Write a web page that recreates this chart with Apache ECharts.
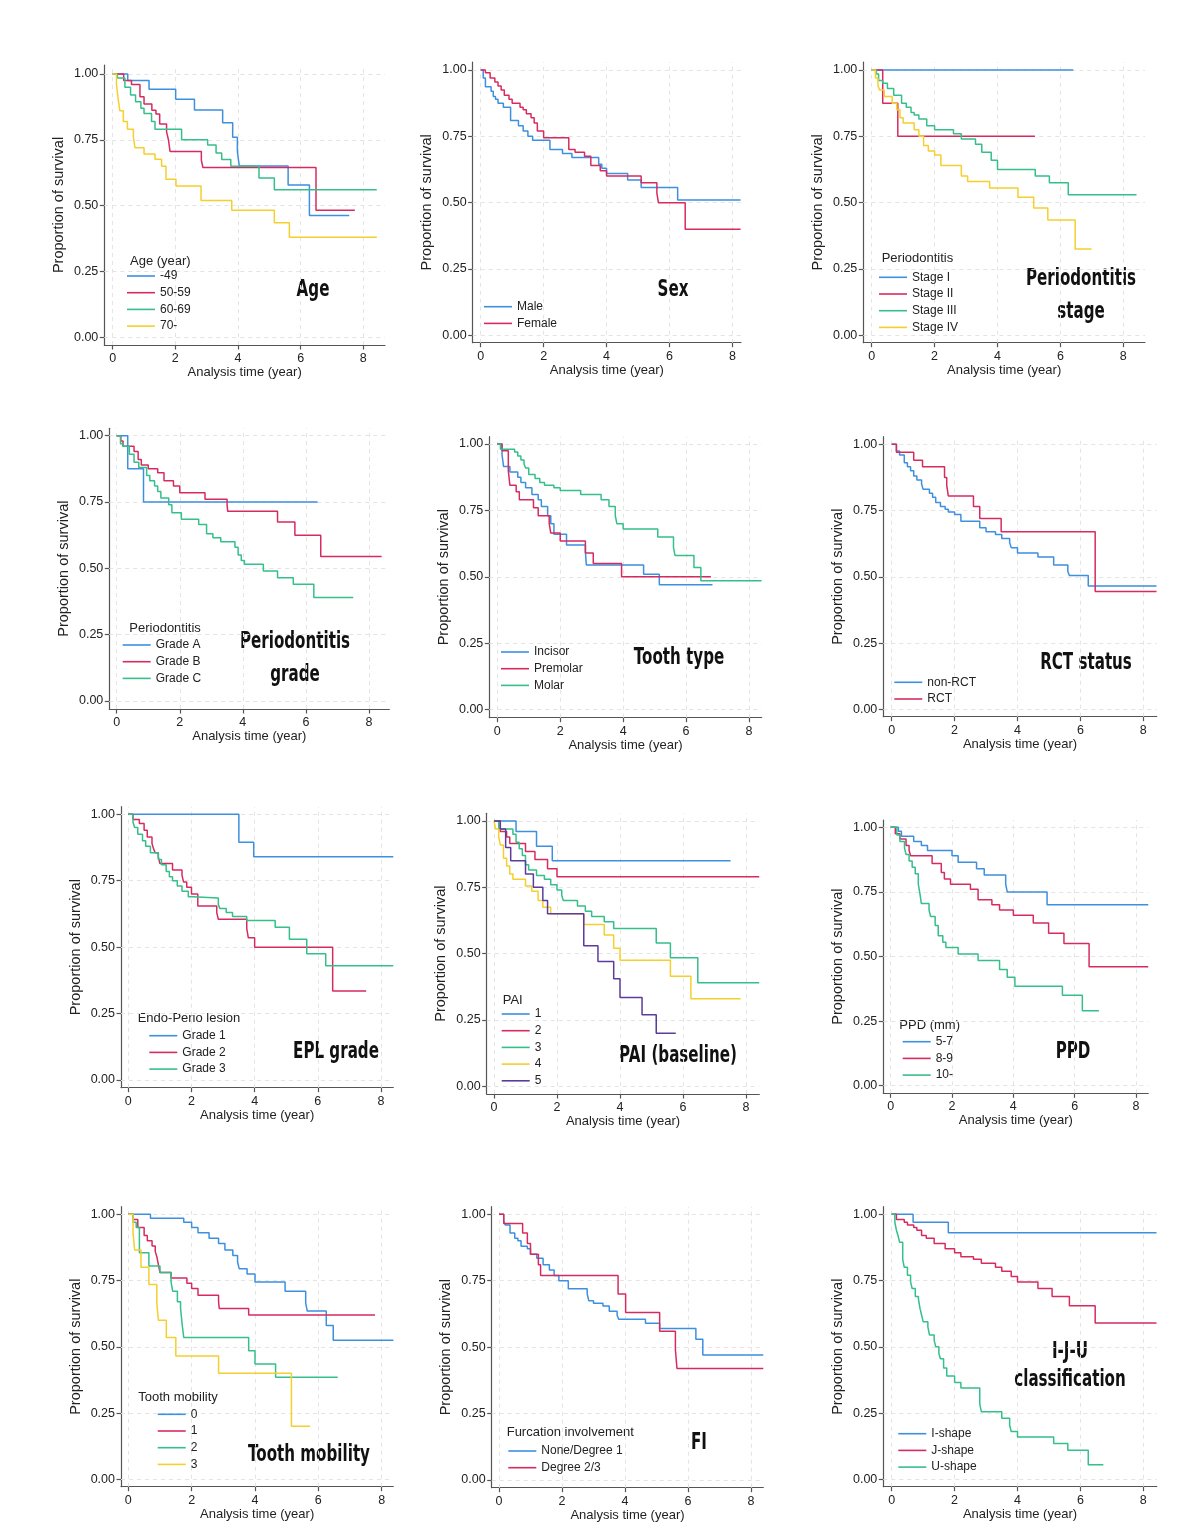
<!DOCTYPE html>
<html>
<head>
<meta charset="utf-8">
<script src="https://cdn.jsdelivr.net/npm/echarts@6/dist/echarts.min.js"></script>
<style>
  html, body { margin: 0; padding: 0; background: #fff; }
  #main { width: 1200px; height: 1537px; }
</style>
</head>
<body>
<div id="main"></div>
<script>
// tick values shared by every panel
const xTicks = [0, 2, 4, 6, 8]
const yTicks = [0, 0.25, 0.5, 0.75, 1]

// Kaplan-Meier curves: [time (year), survival]
// Age
const age49 = [[0, 1], [0.48, 0.975], [1.16, 0.942], [2.01, 0.904], [2.61, 0.863], [3.51, 0.815], [3.83, 0.76], [3.98, 0.705], [4.04, 0.651], [5.6, 0.578], [6.28, 0.463], [7.55, 0.463]]
const age50 = [[0, 1], [0.35, 0.975], [0.6, 0.96], [0.87, 0.914], [1.0, 0.886], [1.25, 0.862], [1.38, 0.848], [1.5, 0.81], [1.72, 0.78], [1.78, 0.75], [1.83, 0.706], [2.83, 0.673], [2.88, 0.645], [6.49, 0.483], [7.73, 0.483]]
const age60 = [[0, 1], [0.15, 0.985], [0.39, 0.95], [0.57, 0.92], [0.73, 0.895], [0.9, 0.87], [1.0, 0.85], [1.24, 0.82], [1.35, 0.79], [2.2, 0.75], [3.03, 0.73], [3.3, 0.70], [3.48, 0.675], [3.77, 0.65], [4.67, 0.605], [5.16, 0.56], [8.43, 0.56]]
const age70 = [[0, 1], [0.12, 0.96], [0.18, 0.9], [0.23, 0.86], [0.34, 0.82], [0.47, 0.79], [0.66, 0.76], [0.71, 0.72], [1.0, 0.696], [1.35, 0.676], [1.56, 0.65], [1.7, 0.60], [2.02, 0.575], [2.82, 0.52], [3.8, 0.483], [5.16, 0.435], [5.64, 0.38], [8.43, 0.38]]
// Sex
const male = [[0, 1], [0.08, 0.97], [0.15, 0.937], [0.33, 0.92], [0.4, 0.9], [0.47, 0.89], [0.55, 0.875], [0.72, 0.86], [0.95, 0.81], [1.2, 0.79], [1.35, 0.77], [1.5, 0.75], [1.65, 0.735], [2.2, 0.70], [2.6, 0.685], [2.9, 0.67], [3.75, 0.645], [3.85, 0.63], [4.0, 0.61], [4.67, 0.585], [5.1, 0.557], [6.26, 0.51], [8.26, 0.51]]
const female = [[0, 1], [0.15, 0.99], [0.3, 0.97], [0.45, 0.955], [0.55, 0.94], [0.65, 0.925], [0.75, 0.905], [0.9, 0.89], [1.0, 0.875], [1.25, 0.86], [1.35, 0.85], [1.45, 0.835], [1.6, 0.82], [1.7, 0.80], [1.8, 0.77], [2.0, 0.745], [2.8, 0.70], [3.0, 0.69], [3.3, 0.675], [3.5, 0.64], [3.8, 0.62], [4.0, 0.60], [5.1, 0.575], [5.6, 0.535], [5.65, 0.50], [6.5, 0.40], [8.26, 0.40]]
// Periodontitis stage
const stage1 = [[0, 1], [6.41, 1]]
const stage2 = [[0, 1], [0.35, 0.875], [0.83, 0.75], [5.19, 0.75]]
const stage3 = [[0, 1], [0.15, 0.985], [0.22, 0.96], [0.35, 0.95], [0.5, 0.93], [0.7, 0.905], [0.95, 0.875], [1.1, 0.86], [1.25, 0.84], [1.35, 0.83], [1.5, 0.815], [1.75, 0.79], [2.0, 0.775], [2.6, 0.76], [2.85, 0.74], [3.3, 0.72], [3.5, 0.69], [3.8, 0.66], [4.0, 0.625], [5.2, 0.60], [5.65, 0.575], [6.25, 0.53], [8.42, 0.53]]
const stage4 = [[0, 1], [0.12, 0.97], [0.2, 0.94], [0.25, 0.925], [0.4, 0.9], [0.65, 0.875], [0.8, 0.85], [0.9, 0.82], [1.0, 0.80], [1.35, 0.775], [1.5, 0.75], [1.65, 0.715], [1.8, 0.695], [2.0, 0.68], [2.2, 0.64], [2.85, 0.60], [3.05, 0.58], [3.75, 0.555], [4.65, 0.52], [5.15, 0.48], [5.6, 0.435], [6.47, 0.325], [6.99, 0.325]]
// Periodontitis grade
const gradeA = [[0, 1], [0.35, 0.875], [0.85, 0.75], [6.37, 0.75]]
const gradeB = [[0, 1], [0.13, 0.98], [0.2, 0.96], [0.55, 0.94], [0.68, 0.91], [0.78, 0.89], [1.0, 0.875], [1.3, 0.86], [1.5, 0.83], [1.8, 0.81], [2.0, 0.785], [2.8, 0.76], [3.5, 0.74], [3.52, 0.715], [5.1, 0.675], [5.65, 0.625], [6.47, 0.545], [8.4, 0.545]]
const gradeC = [[0, 1], [0.12, 0.97], [0.2, 0.96], [0.4, 0.93], [0.55, 0.9], [0.7, 0.88], [0.95, 0.85], [1.05, 0.83], [1.2, 0.81], [1.3, 0.79], [1.4, 0.765], [1.65, 0.74], [1.75, 0.71], [2.05, 0.685], [2.6, 0.665], [2.85, 0.63], [3.05, 0.615], [3.3, 0.60], [3.75, 0.58], [3.85, 0.55], [3.95, 0.53], [4.05, 0.515], [4.65, 0.49], [5.1, 0.465], [5.6, 0.44], [6.25, 0.39], [7.5, 0.39]]
// Tooth type
const incisor = [[0, 1], [0.15, 0.96], [0.2, 0.915], [0.4, 0.895], [0.65, 0.875], [0.75, 0.855], [0.9, 0.835], [1.1, 0.81], [1.3, 0.79], [1.4, 0.765], [1.6, 0.73], [1.7, 0.70], [1.8, 0.66], [2.2, 0.62], [2.8, 0.595], [2.83, 0.545], [4.65, 0.51], [5.15, 0.47], [6.84, 0.47]]
const premolar = [[0, 1], [0.15, 0.975], [0.35, 0.9], [0.4, 0.845], [0.6, 0.82], [0.7, 0.79], [1.15, 0.76], [1.3, 0.73], [1.65, 0.70], [1.7, 0.665], [2.0, 0.635], [2.8, 0.59], [3.05, 0.55], [3.95, 0.50], [6.79, 0.50]]
const molar = [[0, 1], [0.1, 0.98], [0.55, 0.97], [0.65, 0.955], [0.75, 0.94], [0.85, 0.925], [0.9, 0.91], [1.0, 0.885], [1.2, 0.87], [1.35, 0.855], [1.5, 0.845], [1.8, 0.835], [2.0, 0.825], [2.65, 0.81], [3.3, 0.79], [3.55, 0.765], [3.75, 0.73], [3.8, 0.70], [4.0, 0.68], [5.1, 0.65], [5.6, 0.61], [5.65, 0.58], [6.25, 0.535], [6.47, 0.485], [8.4, 0.485]]
// RCT status
const nonRct = [[0, 1], [0.15, 0.975], [0.25, 0.96], [0.4, 0.93], [0.5, 0.915], [0.6, 0.9], [0.7, 0.88], [0.8, 0.865], [0.95, 0.85], [1.0, 0.83], [1.2, 0.815], [1.3, 0.8], [1.4, 0.78], [1.55, 0.765], [1.7, 0.755], [1.8, 0.745], [2.0, 0.735], [2.2, 0.71], [2.8, 0.685], [3.0, 0.67], [3.3, 0.66], [3.5, 0.645], [3.75, 0.63], [3.8, 0.61], [4.0, 0.59], [4.65, 0.575], [5.15, 0.545], [5.6, 0.52], [5.65, 0.505], [6.25, 0.465], [8.42, 0.465]]
const rct = [[0, 1], [0.15, 0.97], [0.7, 0.94], [0.98, 0.915], [1.68, 0.875], [1.75, 0.845], [1.8, 0.805], [2.6, 0.765], [2.8, 0.72], [3.48, 0.67], [6.47, 0.445], [8.42, 0.445]]
// EPL grade
const epl1 = [[0, 1], [3.5, 0.895], [3.97, 0.84], [8.39, 0.84]]
const epl2 = [[0, 1], [0.15, 0.98], [0.35, 0.965], [0.5, 0.94], [0.6, 0.915], [0.75, 0.89], [0.8, 0.87], [0.85, 0.855], [0.95, 0.84], [1.0, 0.815], [1.4, 0.79], [1.7, 0.77], [1.75, 0.745], [1.85, 0.725], [2.0, 0.70], [2.2, 0.655], [2.8, 0.63], [2.85, 0.605], [3.75, 0.57], [3.8, 0.535], [4.0, 0.50], [6.47, 0.335], [7.53, 0.335]]
const epl3 = [[0, 1], [0.15, 0.97], [0.2, 0.95], [0.3, 0.925], [0.45, 0.9], [0.55, 0.88], [0.7, 0.855], [0.95, 0.83], [1.05, 0.81], [1.2, 0.785], [1.3, 0.765], [1.4, 0.75], [1.55, 0.73], [1.7, 0.71], [1.9, 0.69], [2.05, 0.685], [2.85, 0.66], [2.9, 0.645], [3.1, 0.63], [3.3, 0.615], [3.75, 0.60], [4.65, 0.575], [5.1, 0.53], [5.65, 0.475], [6.25, 0.43], [8.39, 0.43]]
// PAI (baseline)
const pai1 = [[0, 1], [0.7, 0.96], [1.35, 0.905], [1.85, 0.85], [7.51, 0.85]]
const pai2 = [[0, 1], [0.2, 0.96], [0.4, 0.94], [0.5, 0.915], [1.0, 0.885], [1.3, 0.855], [1.7, 0.82], [2.0, 0.79], [8.42, 0.79]]
const pai3 = [[0, 1], [0.15, 0.97], [0.6, 0.95], [0.7, 0.92], [0.8, 0.895], [0.9, 0.87], [1.0, 0.835], [1.1, 0.815], [1.35, 0.795], [1.6, 0.78], [1.8, 0.76], [2.0, 0.74], [2.15, 0.72], [2.2, 0.70], [2.65, 0.68], [2.9, 0.66], [3.1, 0.64], [3.5, 0.62], [3.8, 0.595], [5.15, 0.54], [5.6, 0.485], [6.47, 0.39], [8.42, 0.39]]
const pai4 = [[0, 1], [0.05, 0.97], [0.15, 0.94], [0.2, 0.91], [0.3, 0.86], [0.4, 0.83], [0.5, 0.8], [0.6, 0.78], [1.0, 0.755], [1.2, 0.735], [1.4, 0.70], [1.55, 0.675], [1.8, 0.65], [2.85, 0.61], [3.5, 0.57], [3.8, 0.52], [4.0, 0.475], [5.6, 0.415], [6.25, 0.33], [7.83, 0.33]]
const pai5 = [[0, 1], [0.2, 0.97], [0.37, 0.9], [0.53, 0.85], [1.0, 0.8], [1.25, 0.75], [1.55, 0.70], [1.7, 0.65], [2.85, 0.53], [3.3, 0.47], [3.8, 0.405], [4.0, 0.335], [4.7, 0.27], [5.15, 0.20], [5.77, 0.20]]
// PPD
const ppd57 = [[0, 1], [0.25, 0.985], [0.35, 0.965], [0.75, 0.945], [1.0, 0.93], [1.2, 0.91], [2.0, 0.89], [2.2, 0.865], [2.8, 0.84], [3.05, 0.815], [3.75, 0.78], [3.8, 0.75], [5.1, 0.70], [8.4, 0.70]]
const ppd89 = [[0, 1], [0.15, 0.975], [0.3, 0.955], [0.5, 0.93], [0.6, 0.91], [0.65, 0.89], [1.35, 0.86], [1.65, 0.825], [1.75, 0.80], [1.95, 0.78], [2.6, 0.76], [2.85, 0.72], [3.3, 0.70], [3.55, 0.68], [4.0, 0.66], [4.65, 0.63], [5.15, 0.59], [5.65, 0.55], [6.47, 0.46], [8.4, 0.46]]
const ppd10 = [[0, 1], [0.2, 0.97], [0.3, 0.945], [0.45, 0.92], [0.5, 0.895], [0.6, 0.87], [0.7, 0.845], [0.8, 0.82], [0.9, 0.78], [0.95, 0.745], [1.0, 0.705], [1.25, 0.68], [1.3, 0.655], [1.45, 0.62], [1.55, 0.58], [1.7, 0.555], [1.8, 0.535], [2.2, 0.51], [2.85, 0.485], [3.55, 0.45], [3.8, 0.42], [4.05, 0.385], [5.6, 0.35], [6.25, 0.29], [6.79, 0.29]]
// Tooth mobility
const mob0 = [[0, 1], [0.7, 0.985], [1.75, 0.97], [2.0, 0.95], [2.2, 0.93], [2.55, 0.91], [2.85, 0.89], [3.05, 0.865], [3.3, 0.845], [3.45, 0.82], [3.5, 0.795], [3.75, 0.775], [4.0, 0.745], [4.95, 0.71], [5.6, 0.665], [5.65, 0.635], [6.25, 0.58], [6.47, 0.525], [8.37, 0.525]]
const mob1 = [[0, 1], [0.15, 0.98], [0.3, 0.95], [0.5, 0.92], [0.6, 0.9], [0.75, 0.88], [0.85, 0.86], [0.9, 0.84], [0.95, 0.81], [1.0, 0.78], [1.35, 0.76], [1.85, 0.74], [2.0, 0.72], [2.2, 0.695], [2.85, 0.67], [2.87, 0.645], [3.8, 0.62], [7.79, 0.62]]
const mob2 = [[0, 1], [0.15, 0.97], [0.25, 0.95], [0.35, 0.855], [0.65, 0.805], [1.0, 0.78], [1.35, 0.745], [1.4, 0.71], [1.55, 0.67], [1.65, 0.645], [1.7, 0.585], [1.75, 0.535], [3.8, 0.485], [4.0, 0.435], [4.65, 0.385], [6.61, 0.385]]
const mob3 = [[0, 1], [0.15, 0.93], [0.2, 0.865], [0.4, 0.80], [0.65, 0.735], [0.9, 0.665], [0.95, 0.60], [1.2, 0.535], [1.5, 0.465], [2.85, 0.40], [5.15, 0.20], [5.74, 0.20]]
// Furcation involvement
const fiNone = [[0, 1], [0.15, 0.975], [0.2, 0.96], [0.35, 0.93], [0.5, 0.91], [0.6, 0.9], [0.7, 0.88], [0.9, 0.87], [1.0, 0.85], [1.2, 0.835], [1.4, 0.81], [1.6, 0.79], [1.75, 0.77], [1.9, 0.75], [2.2, 0.72], [2.8, 0.70], [2.85, 0.675], [3.0, 0.665], [3.3, 0.655], [3.5, 0.635], [3.75, 0.62], [3.8, 0.605], [4.65, 0.59], [5.1, 0.57], [6.25, 0.53], [6.47, 0.47], [8.39, 0.47]]
const fiDeg = [[0, 1], [0.15, 0.965], [0.75, 0.93], [0.9, 0.89], [1.0, 0.85], [1.25, 0.81], [1.32, 0.77], [3.78, 0.70], [4.02, 0.63], [5.1, 0.56], [5.6, 0.49], [5.65, 0.42], [8.39, 0.42]]
// I-J-U classification
const ishape = [[0, 1], [0.68, 0.97], [1.8, 0.93], [8.42, 0.93]]
const jshape = [[0, 1], [0.15, 0.98], [0.4, 0.97], [0.5, 0.96], [0.7, 0.95], [0.8, 0.94], [0.95, 0.92], [1.1, 0.91], [1.35, 0.89], [1.7, 0.87], [2.0, 0.855], [2.2, 0.84], [2.6, 0.83], [2.85, 0.815], [3.3, 0.80], [3.5, 0.785], [3.8, 0.765], [4.0, 0.745], [4.65, 0.72], [5.1, 0.69], [5.65, 0.655], [6.47, 0.59], [8.42, 0.59]]
const ushape = [[0, 1], [0.1, 0.97], [0.15, 0.94], [0.2, 0.92], [0.25, 0.895], [0.35, 0.83], [0.4, 0.80], [0.5, 0.77], [0.6, 0.745], [0.65, 0.72], [0.75, 0.69], [0.85, 0.68], [0.9, 0.645], [0.95, 0.62], [1.0, 0.595], [1.15, 0.575], [1.2, 0.545], [1.35, 0.525], [1.4, 0.50], [1.5, 0.475], [1.55, 0.455], [1.65, 0.42], [1.75, 0.39], [2.0, 0.365], [2.2, 0.345], [2.8, 0.285], [2.85, 0.255], [3.5, 0.23], [3.75, 0.205], [3.8, 0.18], [4.0, 0.16], [5.15, 0.135], [5.6, 0.11], [6.25, 0.055], [6.73, 0.055]]

// legend texts and panel captions
const legendTitles = ['Age (year)', '', 'Periodontitis', 'Periodontitis', '', '', 'Endo-Perio lesion', 'PAI', 'PPD (mm)', 'Tooth mobility', 'Furcation involvement', '']
const groupLabels = [
  ['-49', '50-59', '60-69', '70-'],
  ['Male', 'Female'],
  ['Stage I', 'Stage II', 'Stage III', 'Stage IV'],
  ['Grade A', 'Grade B', 'Grade C'],
  ['Incisor', 'Premolar', 'Molar'],
  ['non-RCT', 'RCT'],
  ['Grade 1', 'Grade 2', 'Grade 3'],
  ['1', '2', '3', '4', '5'],
  ['5-7', '8-9', '10-'],
  ['0', '1', '2', '3'],
  ['None/Degree 1', 'Degree 2/3'],
  ['I-shape', 'J-shape', 'U-shape']
]
const panelLabels = [['Age'], ['Sex'], ['Periodontitis', 'stage'], ['Periodontitis', 'grade'], ['Tooth type'], ['RCT status'], ['EPL grade'], ['PAI (baseline)'], ['PPD'], ['Tooth mobility'], ['FI'], ['I-J-U', 'classification']]
const curves = [
  [age49, age50, age60, age70],
  [male, female],
  [stage1, stage2, stage3, stage4],
  [gradeA, gradeB, gradeC],
  [incisor, premolar, molar],
  [nonRct, rct],
  [epl1, epl2, epl3],
  [pai1, pai2, pai3, pai4, pai5],
  [ppd57, ppd89, ppd10],
  [mob0, mob1, mob2, mob3],
  [fiNone, fiDeg],
  [ishape, jshape, ushape]
]

const colors = ['#3d8fdf', '#d72b5f', '#35bf8b', '#f5cf2d', '#5b3c9c']
const baseFont = '"Liberation Sans", Arial, sans-serif'
const bigFont = '"DejaVu Sans", "Liberation Sans", sans-serif'

// plot box [left, top, right, bottom] and pixel of t=0, t=8, S=1, S=0
const boxes = [
  [104.3, 65, 385, 345, 112.7, 363.3, 74, 337.3],
  [472.7, 62, 741, 342.7, 480.7, 732.4, 70, 335.3],
  [863.3, 62, 1145, 342.7, 871.7, 1123.3, 70, 335.3],
  [109.3, 428.3, 389.3, 709, 116.7, 369, 435.7, 701],
  [489.3, 436.7, 761.7, 717.7, 497.3, 749, 444, 709.7],
  [883.3, 436.7, 1156.7, 716.7, 891.7, 1143.3, 444.3, 709.3],
  [121, 806.7, 393.3, 1087.7, 128.3, 381, 814.3, 1080],
  [486.7, 813.3, 759.3, 1094, 494, 746, 821, 1086.3],
  [883.3, 820, 1148.3, 1093.3, 890.7, 1136, 827.3, 1085.7],
  [121, 1206.7, 393.3, 1486.7, 128.3, 381.7, 1214.3, 1479.3],
  [491.7, 1206.7, 763.3, 1487.7, 499, 751, 1214.3, 1480],
  [883.3, 1206.7, 1156.7, 1486.7, 891.7, 1143.3, 1214.3, 1479.3]
]
// legend: line start x, first item y, title x, title y
const legendPos = [
  [127, 276, 130, 261],
  [484, 306.7],
  [879, 277.3, 881.7, 258.3],
  [122.7, 645, 129.3, 628.3],
  [501, 652],
  [894.3, 682.3],
  [149.3, 1035.7, 137.7, 1018.3],
  [501.7, 1014, 502.7, 1000],
  [902.7, 1041.7, 899.3, 1025.7],
  [157.7, 1414.3, 138.3, 1397.7],
  [508.3, 1451, 506.7, 1432.3],
  [898.3, 1433.7]
]
// caption centre x, first line y, line gap
const labelPos = [
  [313, 290, 0], [673, 290, 0], [1081, 279, 33], [295, 642, 33],
  [679, 658, 0], [1086, 663, 0], [336, 1052, 0], [678, 1056, 0],
  [1073, 1052, 0], [309, 1455, 0], [699, 1443, 0], [1070, 1352, 28.3]
]

const axisColor = '#555'
const grids = []
const xAxes = []
const yAxes = []
const series = []
const legends = []
const graphics = []

boxes.forEach((b, i) => {
  const [left, top, right, bottom, t0, t8, s1, s0] = b
  const pxT = (t8 - t0) / 8
  const pxS = s0 - s1
  grids.push({ left: left, top: top, width: right - left, height: bottom - top, outerBoundsMode: 'none' })
  xAxes.push({
    type: 'value',
    gridIndex: i,
    min: (left - t0) / pxT,
    max: (right - t0) / pxT,
    name: 'Analysis time (year)',
    nameLocation: 'middle',
    nameGap: 21,
    nameTextStyle: { fontSize: 13, color: '#222', fontFamily: baseFont },
    axisLine: { show: true, onZero: false, lineStyle: { color: axisColor, width: 1.2 } },
    axisTick: { show: true, customValues: xTicks, length: 4.5, lineStyle: { color: axisColor, width: 1.2 } },
    axisLabel: { customValues: xTicks, margin: 7, fontSize: 12.5, color: '#222', fontFamily: baseFont },
    splitLine: { show: false }
  })
  yAxes.push({
    type: 'value',
    gridIndex: i,
    min: -(bottom - s0) / pxS,
    max: 1 + (s1 - top) / pxS,
    name: 'Proportion of survival',
    nameLocation: 'middle',
    nameGap: 38,
    nameTextStyle: { fontSize: 14.5, color: '#222', fontFamily: baseFont },
    axisLine: { show: true, onZero: false, lineStyle: { color: axisColor, width: 1.2 } },
    axisTick: { show: true, customValues: yTicks, length: 4.5, lineStyle: { color: axisColor, width: 1.2 } },
    axisLabel: { customValues: yTicks, margin: 6, fontSize: 12.5, color: '#222', fontFamily: baseFont, formatter: v => v.toFixed(2) },
    splitLine: { show: false }
  })

  // faint dashed grid, kept under the curves
  series.push({
    type: 'line',
    xAxisIndex: i,
    yAxisIndex: i,
    data: [[0, 1]],
    symbol: 'none',
    lineStyle: { opacity: 0 },
    silent: true,
    animation: false,
    z: 1,
    markLine: {
      z: 1,
      silent: true,
      animation: false,
      symbol: ['none', 'none'],
      label: { show: false },
      lineStyle: { color: '#e4e4e4', type: [4, 4], width: 1 },
      data: xTicks.map(v => ({ xAxis: v })).concat(yTicks.map(v => ({ yAxis: v })))
    }
  })

  const names = []
  curves[i].forEach((c, k) => {
    const name = i + '|' + groupLabels[i][k]
    names.push(name)
    series.push({
      type: 'line',
      name: name,
      xAxisIndex: i,
      yAxisIndex: i,
      data: c,
      step: 'end',
      symbol: 'none',
      showSymbol: false,
      color: colors[k],
      lineStyle: { width: 1.5, color: colors[k] },
      silent: true,
      animation: false,
      z: 6
    })
  })

  const lp = legendPos[i]
  legends.push({
    data: names,
    orient: 'vertical',
    left: lp[0],
    top: lp[1] - 8.35,
    padding: 0,
    itemGap: 0,
    icon: 'rect',
    itemWidth: 28,
    itemHeight: 1.6,
    selectedMode: false,
    formatter: n => n.split('|')[1],
    textStyle: { fontSize: 12, lineHeight: 16.7, color: '#222', fontFamily: baseFont }
  })
  if (legendTitles[i]) {
    graphics.push({
      type: 'text',
      x: lp[2],
      y: lp[3],
      silent: true,
      style: { text: legendTitles[i], font: '13px ' + baseFont, fill: '#222', align: 'left', verticalAlign: 'middle' }
    })
  }

  // heavy condensed caption: squeeze a bold face sideways
  const [cx, cy, gap] = labelPos[i]
  panelLabels[i].forEach((t, k) => {
    graphics.push({
      type: 'text',
      x: cx,
      y: cy + k * gap,
      scaleX: 0.72,
      scaleY: 1.12,
      silent: true,
      style: { text: t, font: 'bold 21px ' + bigFont, fill: '#111', align: 'center', verticalAlign: 'middle' }
    })
  })
})

const chart = echarts.init(document.getElementById('main'))
chart.setOption({
  backgroundColor: '#fff',
  animation: false,
  grid: grids,
  xAxis: xAxes,
  yAxis: yAxes,
  legend: legends,
  series: series,
  graphic: graphics
})
</script>
</body>
</html>
